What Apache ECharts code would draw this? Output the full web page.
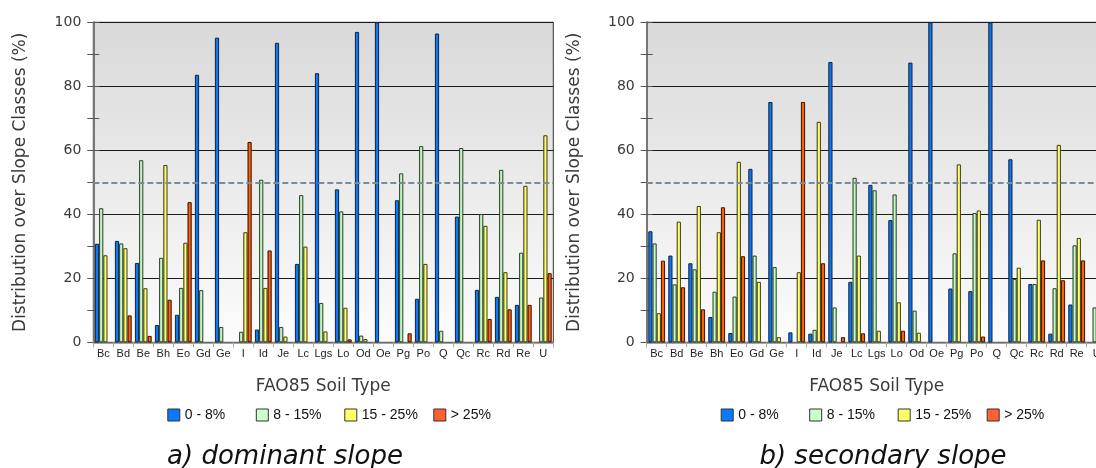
<!DOCTYPE html>
<html>
<head>
<meta charset="utf-8">
<script src="https://cdn.jsdelivr.net/npm/echarts@6/dist/echarts.min.js"></script>
<style>
html,body{margin:0;padding:0;background:#fff;}
#chart{width:1096px;height:468px;}
</style>
</head>
<body>
<div id="chart"></div>
<script>
const categories = ['Bc','Bd','Be','Bh','Eo','Gd','Ge','I','Id','Je','Lc','Lgs','Lo','Od','Oe','Pg','Po','Q','Qc','Rc','Rd','Re','U'];
const seriesNames = ['0 - 8%','8 - 15%','15 - 25%','> 25%'];

// a) dominant slope
const domSlope0_8   = [30.8,31.7,24.8,5.4,8.6,83.6,95.2,0,4,93.6,24.5,84.1,47.8,97,100,44.4,13.6,96.5,39.3,16.4,14.2,11.7,0];
const domSlope8_15  = [41.9,30.9,56.9,26.4,17,16.3,4.8,3.3,50.8,4.8,46,12.3,40.9,2.1,0,52.8,61.3,3.6,60.7,40.1,53.9,28,14];
const domSlope15_25 = [27.2,29.4,16.9,55.4,31.1,0,0,34.4,17,1.8,29.9,3.4,10.8,1,0,0,24.5,0,0,36.4,21.9,48.9,64.7];
const domSlope25    = [0,8.4,2,13.3,43.8,0,0,62.6,28.7,0,0,0,0.9,0,0,2.8,0,0,0,7.3,10.3,11.7,21.6];

// b) secondary slope
const secSlope0_8   = [34.7,27.1,24.7,7.9,2.9,54.2,75.1,3.1,2.7,87.6,18.9,49.2,38.2,87.4,100,16.8,16,100,57.2,18.2,2.7,11.8,0];
const secSlope8_15  = [30.9,18.1,22.8,15.8,14.3,27.1,23.5,0,3.9,10.9,51.4,47.5,46.2,9.9,0,27.8,40.4,0,19.8,18.2,16.9,30.3,10.9];
const secSlope15_25 = [9.1,37.7,42.6,34.4,56.4,18.9,1.6,21.9,68.9,0,27.1,3.6,12.5,3,0,55.6,41.2,0,23.3,38.3,61.7,32.6,57];
const secSlope25    = [25.5,17.2,10.3,42.2,26.9,0,0,75.1,24.7,1.6,2.8,0,3.6,0,0,0,1.8,0,0,25.6,19.4,25.6,32];

const yTicks = [0,20,40,60,80,100];
const refLine = 50;
const xTitle = 'FAO85 Soil Type';
const yTitle = 'Distribution over Slope Classes (%)';
const captions = ['a) dominant slope','b) secondary slope'];

const chart = echarts.init(document.getElementById('chart'));
const G = echarts.graphic.LinearGradient;
const barStyles = [
  {fill: new G(0,0,1,0,[{offset:0,color:'#2060b0'},{offset:0.4,color:'#0a7cff'},{offset:1,color:'#0870ee'}]), border:'#14243a', legend:'#0a78ff'},
  {fill: new G(0,0,1,0,[{offset:0,color:'#88c888'},{offset:0.4,color:'#c8fcc4'},{offset:1,color:'#b0eeac'}]), border:'#2a3f2a', legend:'#ccffcc'},
  {fill: new G(0,0,1,0,[{offset:0,color:'#c0c048'},{offset:0.4,color:'#ffff70'},{offset:1,color:'#f4f464'}]), border:'#3c3c18', legend:'#ffff66'},
  {fill: new G(0,0,1,0,[{offset:0,color:'#a02c00'},{offset:0.4,color:'#ff6410'},{offset:1,color:'#f45400'}]), border:'#3a1400', legend:'#ff6030'}
];
const panels = [
  {left: 93.3, data:[domSlope0_8,domSlope8_15,domSlope15_25,domSlope25], cap: captions[0], capX: 285},
  {left: 646.7, data:[secSlope0_8,secSlope8_15,secSlope15_25,secSlope25], cap: captions[1], capX: 883}
];
const axisFont = 'DejaVu Sans';
const legendOffsets = [0, 88.5, 177, 266];
const grids=[], xAxes=[], yAxes=[], series=[], legends=[], graphics=[];
panels.forEach((p,pi)=>{
  grids.push({left:p.left, top:22.3, width:460, height:320, show:true,
    outerBoundsMode:'none', containLabel:false,
    backgroundColor: new G(0,0,0,1,[{offset:0,color:'#d9d9d9'},{offset:1,color:'#fcfcfc'}]),
    borderColor:'#333', borderWidth:1});
  xAxes.push({type:'category', gridIndex:pi, data:categories,
    name:xTitle, nameLocation:'middle', nameGap:36,
    nameTextStyle:{fontFamily:axisFont, fontSize:17, color:'#3a3a3a'},
    axisLine:{lineStyle:{color:'#888', width:1.5}},
    axisTick:{show:true, length:5, lineStyle:{color:'#aaa'}},
    axisLabel:{interval:0, fontFamily:'Liberation Sans', fontSize:11, color:'#222', margin:6},
    splitLine:{show:false}});
  yAxes.push({type:'value', gridIndex:pi, min:0, max:100, interval:20,
    name:yTitle, nameLocation:'middle', nameGap:64,
    nameTextStyle:{fontFamily:axisFont, fontSize:17, color:'#3a3a3a'},
    axisLine:{show:true, lineStyle:{color:'#777', width:2}},
    axisTick:{show:true, length:6, lineStyle:{color:'#555'}},
    minorTick:{show:true, splitNumber:2, length:6, lineStyle:{color:'#555'}},
    axisLabel:{fontFamily:axisFont, fontSize:14, color:'#3a3a3a', margin:12,
      formatter:v=>yTicks.includes(v)?String(v):''},
    splitLine:{show:true, lineStyle:{color:'#1a1a1a', width:1}}});
  yAxes.push({type:'value', gridIndex:pi, min:0, max:100, interval:20, position:'left',
    axisLine:{show:false}, axisLabel:{show:false}, splitLine:{show:false},
    axisTick:{show:true, inside:true, length:6, lineStyle:{color:'#555'}},
    minorTick:{show:true, splitNumber:2, length:6, lineStyle:{color:'#555'}}});
  p.data.forEach((arr,si)=>{
    const s = {name:seriesNames[si], type:'bar', xAxisIndex:pi, yAxisIndex:pi*2,
      data:arr.map(v=>v===0?null:v), barWidth:4.2, barGap:'0%',
      itemStyle:{color:barStyles[si].fill, borderColor:barStyles[si].border, borderWidth:1},
      emphasis:{disabled:true}};
    if(si===0){
      s.markLine = {silent:true, symbol:'none', label:{show:false},
        lineStyle:{type:[6,3], color:'#7b8a99', width:2},
        data:[{yAxis:refLine}]};
    }
    series.push(s);
  });
  seriesNames.forEach((n,i)=>{
    legends.push({left:p.left+74+legendOffsets[i], top:408, itemWidth:12, itemHeight:12, icon:'rect',
      selectedMode:false, padding:0,
      textStyle:{fontFamily:'Liberation Sans', fontSize:14, color:'#111'},
      data:[{name:n, itemStyle:{color:barStyles[i].legend, borderColor:'#333', borderWidth:1}}]});
  });
  graphics.push({type:'text', x:p.capX, y:457, style:{text:p.cap, font:'italic 26px "DejaVu Sans"', fill:'#111', textAlign:'center', verticalAlign:'middle'}});
});

chart.setOption({
  animation:false,
  grid:grids, xAxis:xAxes, yAxis:yAxes, series:series, legend:legends, graphic:graphics
});
</script>
</body>
</html>
